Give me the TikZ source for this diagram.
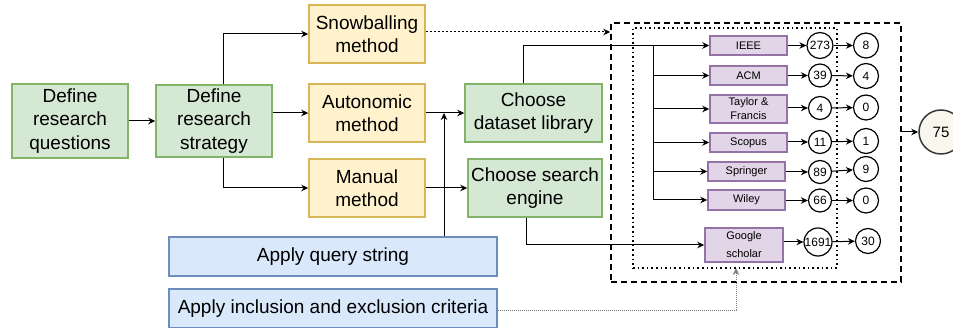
\documentclass[tikz,border=0pt]{standalone}
\usepackage{fontspec}
\setmainfont{Liberation Sans}
\usetikzlibrary{arrows.meta}
\definecolor{gfill}{HTML}{D5E8D4}\definecolor{gdraw}{HTML}{82B366}
\definecolor{yfill}{HTML}{FFF2CC}\definecolor{ydraw}{HTML}{D6B656}
\definecolor{bfill}{HTML}{DAE8FC}\definecolor{bdraw}{HTML}{6C8EBF}
\definecolor{pfill}{HTML}{E1D5E7}\definecolor{pdraw}{HTML}{9673A6}
\definecolor{cfill}{HTML}{F9F7ED}\definecolor{cdraw}{HTML}{36393D}
\begin{document}
\begin{tikzpicture}[x=1pt,y=-1pt,
  box/.style={draw, line width=1.5pt, inner sep=0pt, align=center,
    font=\fontsize{19}{23.3}\selectfont},
  gbox/.style={box, fill=gfill, draw=gdraw},
  ybox/.style={box, fill=yfill, draw=ydraw, minimum width=116pt, minimum height=58pt},
  bluebox/.style={box, fill=bfill, draw=bdraw, minimum width=328pt, minimum height=39pt},
  pbox/.style={draw=pdraw, fill=pfill, line width=1.5pt, inner sep=0pt, align=center,
    minimum width=77pt, font=\fontsize{11}{14}\selectfont},
  num/.style={circle, draw, line width=1.2pt, inner sep=0pt,
    font=\fontsize{12}{14}\selectfont},
  numa/.style={num, minimum size=23pt},
  numb/.style={num, minimum size=25pt},
  conn/.style={line width=1pt, -{Stealth[length=7pt,width=6.5pt]}},
  plain/.style={line width=1pt},
  outerbox/.style={draw, line width=1.5pt, dash pattern=on 6pt off 4pt},
  innerbox/.style={draw, line width=1.6pt, dash pattern=on 1.6pt off 3pt},
]
\useasboundingbox (0,0) rectangle (953,328);

% left part
\node[gbox, minimum width=116pt, minimum height=74pt] (q) at (70,121) {Define\\research\\questions};
\node[gbox, minimum width=116pt, minimum height=72pt] (s) at (214,121) {Define\\research\\strategy};
\node[ybox] (snow) at (367,34) {Snowballing\\method};
\node[ybox] (auto) at (367,113) {Autonomic\\method};
\node[ybox] (man) at (367,188) {Manual\\method};
\node[gbox, minimum width=137pt, minimum height=58pt] (lib) at (533.5,113) {Choose\\dataset library};
\node[gbox, minimum width=134pt, minimum height=58pt] (eng) at (535,188) {Choose search\\engine};
\node[bluebox] (query) at (333,256.5) {Apply query string};
\node[bluebox] (incl) at (333,308.5) {Apply inclusion and exclusion criteria};

% right part containers
\node[outerbox, minimum width=290pt, minimum height=259pt, inner sep=0pt] (outer) at (756,152.5) {};
\node[innerbox, minimum width=204pt, minimum height=240pt, inner sep=0pt] (inner) at (735,148) {};

% libraries
\node[pbox, minimum height=19pt] (ieee) at (748.5,45.5) {IEEE};
\node[pbox, minimum height=19pt] (acm) at (748.5,75.5) {ACM};
\node[pbox, minimum height=28pt] (tf) at (748.5,109) {Taylor \&\\Francis};
\node[pbox, minimum height=19pt] (scopus) at (748.5,142.5) {Scopus};
\node[pbox, minimum height=19pt] (springer) at (746.5,171.5) {Springer};
\node[pbox, minimum height=20pt] (wiley) at (746.5,200) {Wiley};
\node[pbox, minimum width=78pt, minimum height=34pt, font=\fontsize{11}{18}\selectfont] (google) at (744,245) {Google\\scholar};

% counts
\node[numa, minimum size=26pt] (c1) at (820,45.5) {273};
\node[numa] (c2) at (820,75.5) {39};
\node[numa] (c3) at (820,108) {4};
\node[numa] (c4) at (820,142) {11};
\node[numa] (c5) at (820,172) {89};
\node[numa] (c6) at (820,200.5) {66};
\node[numa, minimum size=27pt] (c7) at (818,242) {1691};
\node[numb] (d1) at (866,45.5) {8};
\node[numb] (d2) at (866,76) {4};
\node[numb] (d3) at (866,107.5) {0};
\node[numb] (d4) at (866,141) {1};
\node[numb] (d5) at (866,169) {9};
\node[numb] (d6) at (866,200.5) {0};
\node[numb] (d7) at (868,241) {30};
\node[circle, draw=cdraw, fill=cfill, line width=1.5pt, minimum size=44pt, inner sep=0pt,
  font=\fontsize{15}{18}\selectfont] (total) at (941,132) {75};

% connectors left
\draw[conn] (q) -- (s);
\draw[conn] ([xshift=9pt]s.north) |- (snow);
\draw[conn] (s.east |- auto) -- (auto);
\draw[conn] ([xshift=9pt]s.south) |- (man);
\draw[conn] (auto) -- (lib);
\draw[conn] (man) -- (eng);
\coordinate (qa) at (444,113);
\draw[conn] (query.north -| qa) -- (qa);
\draw[conn, dash pattern=on 2pt off 2pt] (snow.east |- 0,32) -- (outer.west |- 0,32);

% library branches
\coordinate (trtop) at (653,45.5);
\coordinate (trbot) at (653,200);
\draw[conn] ([xshift=-10.5pt]lib.north) |- (ieee);
\draw[plain] (trtop) -- (trbot);
\foreach \b in {acm,tf,scopus,springer,wiley}
  \draw[conn] (trtop |- \b) -- (\b);
\draw[conn] ([xshift=-9pt]eng.south) |- (google);

% box to count arrows
\foreach \b/\c in {ieee/c1,acm/c2,tf/c3,scopus/c4,springer/c5,wiley/c6,google/c7}
  \draw[conn] (\b.east |- \c) -- (\c);
\foreach \c/\d in {c1/d1,c2/d2,c3/d3,c4/d4,c5/d5,c6/d6,c7/d7}
  \draw[conn] (\c) -- (\d);
\draw[conn] (outer.east |- total) -- (total);

% inclusion criteria
\coordinate (ia) at (736,268);
\draw[line width=0.8pt, gray, dash pattern=on 1pt off 1pt, -{Stealth[length=7pt,width=6.5pt]}]
  (incl.east |- 0,310) -| (ia);
\end{tikzpicture}
\end{document}
